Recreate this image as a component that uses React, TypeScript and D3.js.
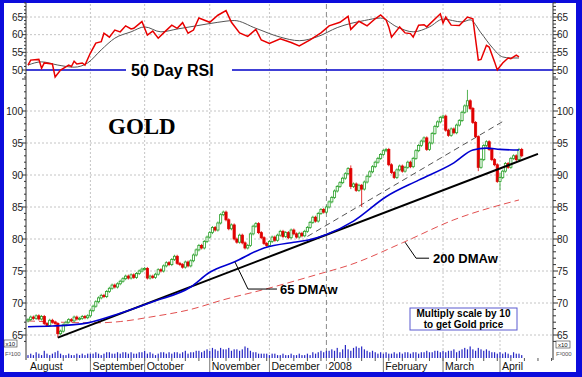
import React from "react";
import * as d3 from "d3";

// ---- data (price shown /10, as on the chart) ----
const closes: number[] = [
  // August
  67.4, 67.8, 67.6, 68.0, 67.5, 67.9, 66.8, 66.5, 67.3, 67.0, 66.8, 65.2, 65.6, 66.6, 67.0, 67.4, 67.2, 67.8, 67.5, 67.6, 67.9, 67.7, 68.0,
  // September
  68.8, 69.5, 70.2, 70.8, 71.2, 71.0, 71.8, 72.3, 72.8, 72.5, 73.0, 73.4, 73.8, 74.2, 73.9, 74.4, 74.0, 74.6, 75.0, 75.3,
  // October
  75.4, 73.9, 74.2, 74.0, 74.5, 75.2, 75.0, 75.8, 76.3, 76.0, 76.8, 77.3, 76.2, 76.0, 75.6, 76.4, 75.8, 76.6, 77.5, 78.3, 79.0, 78.6, 79.6,
  // November
  80.3, 81.0, 81.8, 81.4, 82.5, 83.8, 84.2, 83.0, 81.6, 82.2, 80.0, 79.5, 80.6, 79.4, 78.6, 79.0, 80.8, 82.0, 82.4, 81.0, 80.2, 79.3,
  // December
  79.0, 79.6, 80.3, 79.8, 80.6, 81.2, 80.4, 81.0, 80.2, 81.4, 80.8, 80.3, 80.9, 80.5, 81.2, 81.8, 82.6, 83.4, 82.8, 84.0, 84.6,
  // January 2008
  84.2, 85.0, 85.8, 86.5, 87.5, 88.2, 88.8, 89.5, 90.2, 91.0, 88.2, 88.6, 87.6, 88.4, 87.8, 88.9, 89.8, 90.5, 91.3, 92.0, 92.6, 93.2, 93.8,
  // February
  94.0, 91.6, 90.4, 89.6, 90.8, 91.4, 90.6, 91.2, 92.0, 91.3, 92.6, 93.8, 94.6, 95.3, 95.8, 94.0, 95.0, 96.5, 97.6, 98.3, 99.0,
  // March
  99.2, 97.0, 96.2, 97.2, 96.6, 97.8, 98.5, 99.8, 100.8, 101.6, 100.4, 98.2, 96.0, 91.2, 92.4, 94.6, 95.2, 94.0, 92.4, 91.6, 89.0,
  // April
  89.6, 90.6, 91.8, 91.2, 92.6, 93.0, 92.4, 94.0, 93.0,
];

// long wicks: [day index, high, low]
const spikes: [number, number, number][] = [
  [11, 67.0, 64.6],
  [119, 91.5, 87.8],
  [123, 88.6, 85.0],
  [162, 103.3, 99.8],
  [166, 96.2, 90.6],
  [174, 90.3, 87.6],
];

const volumes: number[] = [
  2, 3, 2, 4, 3, 2, 5, 3, 2, 3, 4, 5, 3, 2, 2, 3, 2, 2, 3, 2, 3, 2, 3,
  3, 3, 4, 3, 2, 3, 4, 4, 3, 3, 4, 3, 4, 4, 3, 4, 3, 3, 4, 4,
  5, 3, 4, 3, 2, 3, 4, 4, 3, 4, 3, 4, 4, 3, 4, 5, 3, 4, 4, 5, 5, 4, 5,
  6, 5, 7, 6, 5, 7, 6, 6, 7, 5, 6, 6, 5, 6, 8, 7, 5, 4, 4, 3, 3, 3,
  3, 2, 3, 3, 2, 2, 3, 2, 2, 3, 2, 2, 3, 2, 2, 3, 2, 4, 3, 4, 5,
  4, 5, 5, 6, 5, 7, 4, 6, 9, 6, 5, 7, 8, 7, 8, 6, 5, 4, 5, 4, 3, 4, 3,
  4, 3, 3, 4, 3, 4, 3, 4, 4, 3, 4, 4, 3, 4, 4, 5, 4, 4, 5, 5, 4,
  5, 4, 5, 5, 6, 4, 5, 6, 7, 6, 8, 6, 5, 7, 6, 5, 6, 5, 4, 4, 3,
  4, 3, 4, 3, 2, 4, 3, 3, 2,
];

// 65 DMAw (blue) read at [day index, value]
const ma65: [number, number][] = [
  [0, 66.3], [9, 66.4], [22, 66.9], [34, 68.4], [46, 70.2], [60, 72.5], [67, 74.8],
  [76, 76.4], [87, 78.6], [98, 79.5], [103, 79.8], [110, 80.7], [120, 82.8],
  [132, 86.6], [144, 89.2], [157, 91.9], [164, 93.9], [169, 94.2], [174, 94.0], [181, 93.9],
];

// 200 DMAw (red dashed)
const ma200: [number, number][] = [
  [0, 67.2], [25, 66.9], [34, 67.1], [45, 67.8], [60, 69.0], [72, 70.5], [86, 72.0],
  [107, 74.5], [119, 76.0], [138, 79.4], [157, 83.0], [181, 86.1],
];

// trend lines [day index, value]
const trendLine: [number, number][] = [[11, 64.6], [188, 93.3]];
const channelLine: [number, number][] = [[103, 80.4], [176, 98.6]];

// RSI (red) and its average (black)
const rsi: [number, number][] = [
  [0, 51.4], [1, 52.8], [4, 53.0], [5, 50.5], [6, 52.0], [9, 51.7], [10, 48.0], [12, 50.0],
  [15, 51.4], [16, 51.0], [17, 52.5], [18, 51.7], [20, 52.0], [21, 51.4], [23, 54.8], [25, 57.6],
  [27, 58.0], [28, 60.4], [30, 59.3], [32, 61.3], [34, 60.8], [36, 62.5], [38, 61.6], [39, 61.8],
  [42, 63.7], [44, 59.9], [46, 61.0], [48, 59.0], [50, 60.5], [53, 62.7], [55, 61.8], [57, 63.4],
  [59, 60.4], [61, 61.3], [63, 64.7], [67, 63.5], [70, 65.5], [73, 66.8], [75, 63.5], [78, 60.5],
  [81, 59.5], [84, 61.5], [86, 58.5], [89, 57.5], [93, 58.8], [97, 57.8], [100, 56.8], [104, 58.5],
  [108, 60.5], [111, 62.5], [115, 63.5], [118, 65.2], [119, 61.5], [122, 63.8], [125, 62.5],
  [128, 64.5], [130, 65.6], [132, 64.2], [133, 62.2], [134, 59.3], [137, 62.2], [139, 60.5],
  [141, 60.3], [142, 59.3], [144, 62.7], [146, 62.8], [147, 62.2], [152, 65.9], [153, 63.3],
  [154, 65.0], [156, 62.7], [159, 62.6], [162, 65.0], [164, 64.5], [166, 52.8], [167, 53.0],
  [169, 57.0], [170, 56.5], [172, 52.3], [173, 50.0], [175, 52.0], [177, 53.4], [178, 53.2],
  [180, 54.2], [181, 53.7],
];
const rsiAvg: [number, number][] = [
  [0, 51.4], [5, 52.3], [11, 51.4], [17, 50.8], [22, 52.0], [27, 55.7], [32, 59.0], [38, 60.8],
  [43, 62.2], [49, 60.8], [55, 61.6], [62, 62.5], [70, 63.5], [76, 64.0], [84, 61.8], [93, 59.3],
  [100, 58.3], [107, 59.5], [114, 62.0], [124, 64.0], [130, 64.7], [136, 62.2], [142, 60.8],
  [148, 62.2], [153, 64.4], [160, 63.6], [163, 64.2], [167, 60.5], [171, 56.5], [175, 53.7],
  [178, 53.4], [181, 53.4],
];

const monthStarts: number[] = [0, 23, 43, 67, 89, 110, 131, 153, 174];
const monthLabels: string[] = ["August", "September", "October", "November", "December", "2008", "February", "March", "April"];
const priceTicks: number[] = [65, 70, 75, 80, 85, 90, 95, 100];
const rsiTicks: number[] = [50, 55, 60, 65];

const FONT = "'Liberation Sans', Arial, sans-serif";

export default function App() {
  const x = d3.scaleLinear().domain([0, 174]).range([28, 500]);
  const yP = d3.scaleLinear().domain([65, 100]).range([335, 111]);
  const yR = d3.scaleLinear().domain([50, 65]).range([70, 17]);
  const yV = d3.scaleLinear().domain([0, 9]).range([358, 345]);

  const L = 26, R = 553;
  const grid = "#c4c4c4";

  const maLine = d3.line<[number, number]>().x(d => x(d[0])).y(d => yP(d[1])).curve(d3.curveMonotoneX);
  const straight = d3.line<[number, number]>().x(d => x(d[0])).y(d => yP(d[1]));
  const rsiLine = d3.line<[number, number]>().x(d => x(d[0])).y(d => yR(d[1]));
  const rsiSmooth = d3.line<[number, number]>().x(d => x(d[0])).y(d => yR(d[1])).curve(d3.curveMonotoneX);

  const spikeMap = new Map(spikes.map(s => [s[0], s]));
  const candles = closes.map((c, i) => {
    const o = i === 0 ? c - 0.2 : closes[i - 1];
    const sp = spikeMap.get(i);
    const top = yP(Math.max(o, c));
    const bot = yP(Math.min(o, c));
    const hi = sp ? yP(sp[1]) : top - 1.5;
    const lo = sp ? yP(sp[2]) : bot + 1.5;
    return { i, up: c >= o, top, bot, hi, lo };
  });

  const priceMinor = d3.range(64, 106);
  const rsiMinor = d3.range(48, 70);
  const weekTicks = d3.range(3, 194, 5);

  // annotation anchors
  const a65 = [x(76.3), yP(76.4)];
  const a200 = [x(139), yP(79.5)];

  return (
    <svg width={582} height={377} style={{ position: "absolute", left: 0, top: 0 }} fontFamily={FONT}>
      <rect x={0} y={0} width={582} height={377} fill="#0c0cdc" />
      <rect x={4} y={3} width={572} height={369} fill="#ffffff" />

      {/* horizontal grid */}
      {priceTicks.map(v => (
        <line key={"pg" + v} x1={L} x2={R} y1={yP(v)} y2={yP(v)} stroke={grid} strokeDasharray="2,2" />
      ))}
      {rsiTicks.slice(1).map(v => (
        <line key={"rg" + v} x1={L} x2={R} y1={yR(v)} y2={yR(v)} stroke={grid} strokeDasharray="2,2" />
      ))}
      {/* vertical grid */}
      {monthStarts.slice(1).map((m, k) =>
        monthLabels[k + 1] === "2008" ? (
          <line key={"vg" + m} x1={x(m)} x2={x(m)} y1={4} y2={372} stroke="#8a8a8a" strokeDasharray="5,3" />
        ) : (
          <line key={"vg" + m} x1={x(m)} x2={x(m)} y1={4} y2={358} stroke={grid} strokeDasharray="2,2" />
        )
      )}

      {/* RSI panel */}
      <line x1={L} x2={126} y1={yR(50)} y2={yR(50)} stroke="#0000c8" strokeWidth={1.6} />
      <line x1={232} x2={R} y1={yR(50)} y2={yR(50)} stroke="#0000c8" strokeWidth={1.6} />
      <text x={131} y={76} fontSize={16} fontWeight="bold" fill="#000">50 Day RSI</text>
      <path d={rsiSmooth(rsiAvg) || ""} fill="none" stroke="#555" strokeWidth={1} />
      <path d={rsiLine(rsi) || ""} fill="none" stroke="#e80000" strokeWidth={1.5} />

      {/* moving averages & trend lines */}
      <path d={maLine(ma200) || ""} fill="none" stroke="#e25050" strokeWidth={1} strokeDasharray="7,4" />
      <path d={straight(channelLine) || ""} fill="none" stroke="#555" strokeWidth={1} strokeDasharray="6,4" />

      {/* candles */}
      {candles.map(c => {
        const col = c.up ? "#27a027" : "#e00000";
        const cx = x(c.i);
        return (
          <g key={"c" + c.i}>
            <line x1={cx} x2={cx} y1={c.hi} y2={c.lo} stroke={col} strokeWidth={0.8} />
            <rect
              x={cx - 1.1}
              y={c.top}
              width={2.2}
              height={Math.max(c.bot - c.top, 1)}
              fill={c.up ? "#ffffff" : col}
              stroke={col}
              strokeWidth={0.8}
            />
          </g>
        );
      })}

      <path d={straight(trendLine) || ""} fill="none" stroke="#000" strokeWidth={2} />
      <path d={maLine(ma65) || ""} fill="none" stroke="#0000d0" strokeWidth={1.6} />

      {/* volume */}
      {volumes.map((v, i) => (
        <rect key={"v" + i} x={x(i) - 0.6} y={yV(v)} width={1.2} height={yV(0) - yV(v)} fill="#2626c4" />
      ))}

      {/* axes */}
      <line x1={L} x2={L} y1={3} y2={360} stroke="#333" />
      <line x1={R} x2={R} y1={3} y2={360} stroke="#333" />
      {priceMinor.map(v => (
        <g key={"pm" + v}>
          <line x1={L - (v % 5 === 0 ? 4 : 2)} x2={L} y1={yP(v)} y2={yP(v)} stroke="#333" />
          <line x1={R} x2={R + (v % 5 === 0 ? 5 : 3)} y1={yP(v)} y2={yP(v)} stroke="#333" />
        </g>
      ))}
      {rsiMinor.map(v => (
        <g key={"rm" + v}>
          <line x1={L - (v % 5 === 0 ? 4 : 2)} x2={L} y1={yR(v)} y2={yR(v)} stroke="#333" />
          <line x1={R} x2={R + (v % 5 === 0 ? 5 : 3)} y1={yR(v)} y2={yR(v)} stroke="#333" />
        </g>
      ))}
      {priceTicks.map(v => (
        <g key={"pl" + v} fontSize={10} fill="#222">
          <text x={L - 3} y={yP(v) + 3.5} textAnchor="end">{v}</text>
          <text x={R + 4} y={yP(v) + 3.5}>{v}</text>
        </g>
      ))}
      {rsiTicks.map(v => (
        <g key={"rl" + v} fontSize={10} fill="#222">
          <text x={L - 3} y={yR(v) + 3.5} textAnchor="end">{v}</text>
          <text x={R + 4} y={yR(v) + 3.5}>{v}</text>
        </g>
      ))}

      {/* x axis */}
      {weekTicks.map(t => (
        <line key={"wt" + t} x1={x(t)} x2={x(t)} y1={358} y2={361} stroke="#555" />
      ))}
      {monthStarts.map((m, k) => (
        <g key={"ml" + m}>
          {k > 0 && monthLabels[k] !== "2008" && (
            <line x1={x(m)} x2={x(m)} y1={358} y2={372} stroke="#777" />
          )}
          <text x={x(m) + 2} y={370} fontSize={10.5} fill="#111">{monthLabels[k]}</text>
        </g>
      ))}

      {/* volume scale labels */}
      <rect x={4} y={340} width={13} height={7} fill="#fff" stroke="#333" strokeWidth={0.6} />
      <text x={5.5} y={346} fontSize={6} fill="#111">x10</text>
      <text x={5} y={356} fontSize={6} fill="#555">F³100</text>
      <rect x={556} y={341} width={14} height={7} fill="#fff" stroke="#333" strokeWidth={0.6} />
      <text x={558} y={347} fontSize={6} fill="#111">x10</text>
      <text x={556} y={356} fontSize={6} fill="#555">F³000</text>

      {/* annotations */}
      <text x={108} y={134} fontFamily="'Liberation Serif', 'Times New Roman', serif" fontSize={23} fontWeight="bold">GOLD</text>
      <polyline
        points={`${a65[0]},${a65[1]} ${a65[0] + 13},${a65[1] + 27} ${a65[0] + 42},${a65[1] + 27}`}
        fill="none" stroke="#000" strokeWidth={1}
      />
      <text x={a65[0] + 45} y={a65[1] + 32} fontSize={13} fontWeight="bold">65 DMAw</text>
      <polyline
        points={`${a200[0]},${a200[1]} ${a200[0] + 11},${a200[1] + 16} ${a200[0] + 24},${a200[1] + 16}`}
        fill="none" stroke="#000" strokeWidth={1}
      />
      <text x={a200[0] + 28} y={a200[1] + 21} fontSize={13} fontWeight="bold">200 DMAw</text>

      <rect x={410} y={308} width={107} height={22} fill="#fff" stroke="#5a5ad0" strokeWidth={1} />
      <text x={463.5} y={317} fontSize={10} fontWeight="bold" textAnchor="middle">Multiply scale by 10</text>
      <text x={463.5} y={328} fontSize={10} fontWeight="bold" textAnchor="middle">to get Gold price</text>
    </svg>
  );
}
